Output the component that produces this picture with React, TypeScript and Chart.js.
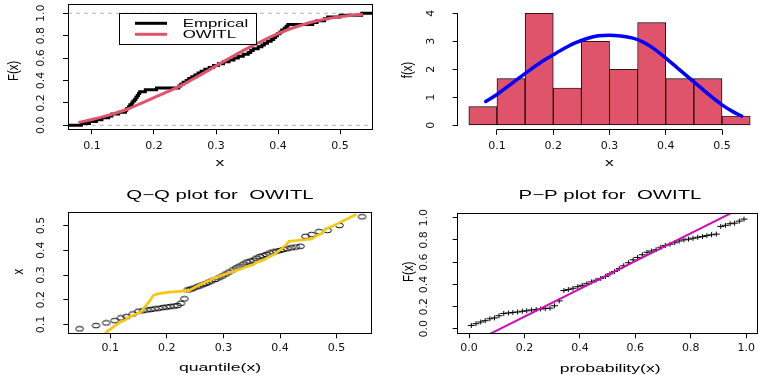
import React, { useEffect, useRef } from "react";
import { Chart, registerables } from "chart.js";

Chart.register(...registerables);

// ---------------- values ----------------
// sorted sample (n = 60)
const sampleX = [
  0.083, 0.096, 0.107, 0.116, 0.127, 0.132, 0.143, 0.154, 0.156, 0.159,
  0.161, 0.164, 0.166, 0.169, 0.171, 0.173, 0.175, 0.177, 0.186, 0.204,
  0.240, 0.243, 0.247, 0.252, 0.256, 0.261, 0.266, 0.271, 0.276, 0.282,
  0.289, 0.296, 0.304, 0.312, 0.321, 0.329, 0.336, 0.344, 0.352, 0.356,
  0.360, 0.368, 0.374, 0.378, 0.383, 0.389, 0.393, 0.396, 0.399, 0.403,
  0.406, 0.410, 0.413, 0.416, 0.456, 0.463, 0.475, 0.480, 0.500, 0.535,
];
// theoretical OWITL quantiles (x axis of the Q-Q plot)
const theoQuantiles = [
  0.046, 0.075, 0.093, 0.108, 0.119, 0.129, 0.140, 0.150, 0.158, 0.165,
  0.172, 0.179, 0.186, 0.193, 0.200, 0.206, 0.213, 0.219, 0.225, 0.231,
  0.237, 0.242, 0.247, 0.253, 0.258, 0.264, 0.269, 0.274, 0.279, 0.286,
  0.292, 0.298, 0.304, 0.310, 0.317, 0.323, 0.329, 0.335, 0.341, 0.347,
  0.353, 0.358, 0.364, 0.370, 0.376, 0.382, 0.388, 0.394, 0.400, 0.406,
  0.413, 0.420, 0.428, 0.436, 0.445, 0.456, 0.469, 0.484, 0.505, 0.545,
];
// plotting probabilities (x axis of the P-P plot)
const plotProbs = [
  0.008, 0.025, 0.042, 0.058, 0.075, 0.092, 0.108, 0.125, 0.142, 0.158,
  0.175, 0.192, 0.208, 0.225, 0.242, 0.258, 0.275, 0.292, 0.308, 0.325,
  0.342, 0.358, 0.375, 0.392, 0.408, 0.425, 0.442, 0.458, 0.475, 0.492,
  0.508, 0.525, 0.542, 0.558, 0.575, 0.592, 0.608, 0.625, 0.642, 0.658,
  0.675, 0.692, 0.708, 0.725, 0.742, 0.758, 0.775, 0.792, 0.808, 0.825,
  0.842, 0.858, 0.875, 0.892, 0.908, 0.925, 0.942, 0.958, 0.975, 0.992,
];
// fitted CDF at the sample (y axis of the P-P plot)
const ppFitted = [
  0.031, 0.047, 0.062, 0.074, 0.091, 0.099, 0.118, 0.139, 0.143, 0.148,
  0.152, 0.159, 0.163, 0.170, 0.174, 0.179, 0.183, 0.187, 0.208, 0.252,
  0.345, 0.354, 0.366, 0.380, 0.392, 0.407, 0.423, 0.438, 0.454, 0.472,
  0.495, 0.517, 0.543, 0.568, 0.596, 0.621, 0.643, 0.667, 0.690, 0.701,
  0.713, 0.735, 0.751, 0.762, 0.776, 0.791, 0.801, 0.808, 0.816, 0.825,
  0.831, 0.840, 0.847, 0.853, 0.922, 0.932, 0.946, 0.952, 0.970, 0.988,
];
// histogram
const histEdges = [0.05, 0.1, 0.15, 0.2, 0.25, 0.3, 0.35, 0.4, 0.45, 0.5, 0.55];
const histDensity = [0.667, 1.667, 4.0, 1.333, 3.0, 2.0, 3.667, 1.667, 1.667, 0.333];
// fitted OWITL curves
const curveX = [
  0.08, 0.10, 0.12, 0.14, 0.16, 0.18, 0.20, 0.22, 0.24, 0.26, 0.28, 0.30,
  0.32, 0.34, 0.36, 0.38, 0.40, 0.42, 0.44, 0.46, 0.48, 0.50, 0.52, 0.535,
];
const densityY = [
  0.85, 1.10, 1.40, 1.70, 2.00, 2.28, 2.52, 2.75, 2.95, 3.10, 3.20, 3.22,
  3.19, 3.12, 2.97, 2.72, 2.40, 2.06, 1.72, 1.38, 1.04, 0.73, 0.48, 0.33,
];
const cdfY = [
  0.027, 0.052, 0.080, 0.112, 0.150, 0.198, 0.248, 0.296, 0.345, 0.404, 0.466, 0.530,
  0.593, 0.655, 0.713, 0.768, 0.818, 0.862, 0.898, 0.928, 0.952, 0.970, 0.982, 0.988,
];
// P-P reference line
const ppLineIntercept = -0.14;
const ppLineSlope = 1.25;
// ticks and labels
const xTicks = [0.1, 0.2, 0.3, 0.4, 0.5];
const probTicks = [0, 0.2, 0.4, 0.6, 0.8, 1.0];
const densTicks = [0, 1, 2, 3, 4];
const legendLabels = ["Emprical", "OWITL"];
const qqTitle = "Q\u2212Q plot for  OWITL";
const ppTitle = "P\u2212P plot for  OWITL";

// ---------------- styling ----------------
const RED = "#DF536B";
const BLUE = "#0000FF";
const YELLOW = "#F5C710";
const MAGENTA = "#CD0BBC";
const TICK_FONT = { family: "'DejaVu Sans', sans-serif", size: 11 };
const TXT_FAMILY = "'Liberation Sans', Arial, sans-serif";

type Rect = { x: number; y: number; w: number; h: number };
type Area = { l: number; r: number; t: number; b: number };
type Txt = {
  text: string; x: number; y: number; size: number;
  sx?: number; sy?: number; rot?: boolean; align?: CanvasTextAlign;
};

const fmt1 = (v: number) => v.toFixed(1);
const fmt0 = (v: number) => String(Math.round(v));

function measureTick(s: string) {
  const c = document.createElement("canvas").getContext("2d")!;
  c.font = `${TICK_FONT.size}px ${TICK_FONT.family}`;
  return c.measureText(s).width;
}

const gridOpts = {
  display: true, offset: false, drawOnChartArea: false, drawTicks: true,
  tickLength: 5, color: "#000", lineWidth: 1,
};

function xAxis(cv: Rect, a: Area, min: number, max: number, ticks: number[], fmt: (v: number) => string, labelY: number) {
  const height = cv.y + cv.h - a.b;
  const pad = labelY - a.b - 5 - (TICK_FONT.size * 1.2) / 2;
  return {
    type: "linear", position: "bottom", min, max, offset: false,
    afterBuildTicks: (s: any) => { s.ticks = ticks.map((v) => ({ value: v })); },
    afterFit: (s: any) => { s.height = height; s.paddingLeft = 0; s.paddingRight = 0; },
    ticks: {
      autoSkip: false, minRotation: 0, maxRotation: 0, padding: pad,
      font: TICK_FONT, color: "#111", callback: (v: any) => fmt(Number(v)),
    },
    grid: gridOpts,
    border: { display: false },
  };
}

function yAxis(cv: Rect, a: Area, min: number, max: number, ticks: number[], fmt: (v: number) => string, labelX: number) {
  const width = a.l - cv.x;
  const widest = Math.max(...ticks.map((v) => measureTick(fmt(v))));
  const pad = a.l - labelX - 5 - widest / 2;
  return {
    type: "linear", position: "left", min, max,
    afterBuildTicks: (s: any) => { s.ticks = ticks.map((v) => ({ value: v })); },
    afterFit: (s: any) => { s.width = width; s.paddingTop = 0; s.paddingBottom = 0; },
    ticks: {
      autoSkip: false, minRotation: 90, maxRotation: 90, crossAlign: "center", padding: pad,
      font: TICK_FONT, color: "#111", callback: (v: any) => fmt(Number(v)),
    },
    grid: gridOpts,
    border: { display: false },
  };
}

function baseOptions(cv: Rect, a: Area, x: any, y: any) {
  return {
    responsive: false, animation: false, devicePixelRatio: 1, events: [],
    layout: { padding: { left: 0, top: a.t - cv.y, right: Math.max(0, cv.x + cv.w - a.r), bottom: 0 } },
    plugins: { legend: { display: false }, tooltip: { enabled: false }, title: { display: false } },
    scales: { x, y },
  };
}

function drawTxt(ctx: CanvasRenderingContext2D, cv: Rect, t: Txt) {
  ctx.save();
  ctx.translate(t.x - cv.x, t.y - cv.y);
  if (t.rot) ctx.rotate(-Math.PI / 2);
  ctx.scale(t.sx ?? 1, t.sy ?? 1);
  ctx.font = `${t.size}px ${TXT_FAMILY}`;
  ctx.fillStyle = "#000";
  ctx.textAlign = t.align ?? "center";
  ctx.textBaseline = "middle";
  ctx.fillText(t.text, 0, 0);
  ctx.restore();
}

function textPlugin(cv: Rect, items: Txt[]) {
  return {
    id: "rtext",
    afterDraw(chart: any) {
      for (const t of items) drawTxt(chart.ctx, cv, t);
    },
  };
}

const al = (p: number) => Math.round(p - 0.5) + 0.5;

const boxPlugin = {
  id: "rbox",
  afterDatasetsDraw(chart: any) {
    const { ctx, chartArea: a } = chart;
    ctx.save();
    ctx.strokeStyle = "#000";
    ctx.lineWidth = 1;
    ctx.strokeRect(al(a.left), al(a.top), al(a.right) - al(a.left), al(a.bottom) - al(a.top));
    ctx.restore();
  },
};

// R-style axis lines spanning first..last tick (histogram panel)
function rAxesPlugin(xt: number[], yt: number[]) {
  return {
    id: "raxes",
    afterDraw(chart: any) {
      const { ctx, chartArea: a, scales } = chart;
      ctx.save();
      ctx.strokeStyle = "#000";
      ctx.lineWidth = 1;
      ctx.beginPath();
      const yb = al(a.bottom);
      ctx.moveTo(al(scales.x.getPixelForValue(xt[0])), yb);
      ctx.lineTo(al(scales.x.getPixelForValue(xt[xt.length - 1])), yb);
      const xl = al(a.left);
      ctx.moveTo(xl, al(scales.y.getPixelForValue(yt[0])));
      ctx.lineTo(xl, al(scales.y.getPixelForValue(yt[yt.length - 1])));
      ctx.stroke();
      ctx.restore();
    },
  };
}

function legendPlugin(cv: Rect) {
  return {
    id: "rlegend",
    afterDatasetsDraw(chart: any) {
      const ctx: CanvasRenderingContext2D = chart.ctx;
      const bx = { l: 119, r: 255.7, t: 13.3, b: 44.3 };
      ctx.save();
      ctx.fillStyle = "#fff";
      ctx.strokeStyle = "#000";
      ctx.lineWidth = 1;
      ctx.fillRect(bx.l - cv.x, bx.t - cv.y, bx.r - bx.l, bx.b - bx.t);
      ctx.strokeRect(al(bx.l - cv.x), al(bx.t - cv.y), Math.round(bx.r - bx.l), Math.round(bx.b - bx.t));
      const rows = [23.3, 34.3];
      const cols = ["#000", RED];
      ctx.lineWidth = 3;
      ctx.lineCap = "butt";
      rows.forEach((yy, i) => {
        ctx.strokeStyle = cols[i];
        ctx.beginPath();
        ctx.moveTo(135 - cv.x, yy - cv.y);
        ctx.lineTo(167 - cv.x, yy - cv.y);
        ctx.stroke();
      });
      ctx.restore();
      legendLabels.forEach((lab, i) =>
        drawTxt(ctx, cv, { text: lab, x: 182.7, y: rows[i] + 0.3, size: 11, sx: 1.53, align: "left" })
      );
    },
  };
}

// ---------------- panels ----------------
const CV1: Rect = { x: 0, y: 0, w: 381, h: 180 };
const A1: Area = { l: 68, r: 372, t: 4.3, b: 129.3 };
const CV2: Rect = { x: 381, y: 0, w: 381, h: 180 };
const A2: Area = { l: 457.6, r: 761.4, t: 8.8, b: 129.8 };
const CV3: Rect = { x: 0, y: 180, w: 381, h: 195 };
const A3: Area = { l: 68.3, r: 371.7, t: 212.3, b: 333.3 };
const CV4: Rect = { x: 381, y: 180, w: 381, h: 195 };
const A4: Area = { l: 457.7, r: 762, t: 213.3, b: 333.3 };

const ROT_SIZE = 11.5;
const ROT_SY = 1.25;

function config1() {
  const xmin = 0.0613, xmax = 0.5516;
  const n = sampleX.length;
  const ecdf = [{ x: xmin, y: 0 }, ...sampleX.map((x, i) => ({ x, y: (i + 1) / n })), { x: xmax, y: 1 }];
  const refLine = (v: number) => ({
    data: [{ x: xmin, y: v }, { x: xmax, y: v }], showLine: true, borderColor: "#B3B3B3",
    borderDash: [4, 4], borderWidth: 1, pointRadius: 0, clip: 0,
  });
  return {
    type: "scatter",
    data: {
      datasets: [
        {
          label: legendLabels[1], data: curveX.map((x, i) => ({ x, y: cdfY[i] })), showLine: true,
          borderColor: RED, borderWidth: 3, pointRadius: 0, cubicInterpolationMode: "monotone",
          borderCapStyle: "round", clip: 0,
        },
        {
          label: legendLabels[0], data: ecdf, showLine: true, stepped: "before",
          borderColor: "#000", borderWidth: 3, pointRadius: 0, clip: 0,
        },
        refLine(0),
        refLine(1),
      ],
    },
    options: baseOptions(CV1, A1,
      xAxis(CV1, A1, xmin, xmax, xTicks, fmt1, 145.7),
      yAxis(CV1, A1, -0.0357, 1.08, probTicks, fmt1, 41.2)),
    plugins: [
      boxPlugin,
      legendPlugin(CV1),
      textPlugin(CV1, [
        { text: "x", x: 220, y: 163.3, size: 11, sx: 1.6 },
        { text: "F(x)", x: 14.2, y: 70.8, size: ROT_SIZE, rot: true, sy: ROT_SY },
      ]),
    ],
  };
}

function config2() {
  return {
    type: "bar",
    data: {
      datasets: [
        {
          type: "line", data: curveX.map((x, i) => ({ x, y: densityY[i] })), borderColor: BLUE,
          borderWidth: 3.5, pointRadius: 0, cubicInterpolationMode: "monotone", fill: false,
          borderCapStyle: "round", clip: 0,
        },
        {
          type: "bar",
          data: histDensity.map((d, i) => ({ x: (histEdges[i] + histEdges[i + 1]) / 2, y: d })),
          backgroundColor: RED, borderColor: "#000", borderWidth: 0.9, borderSkipped: false,
          barPercentage: 1, categoryPercentage: 1,
        },
      ],
    },
    options: baseOptions(CV2, A2,
      xAxis(CV2, A2, 0.03, 0.57, xTicks, fmt1, 145.7),
      yAxis(CV2, A2, -0.16, 4.16, densTicks, fmt0, 431)),
    plugins: [
      rAxesPlugin(xTicks, densTicks),
      textPlugin(CV2, [
        { text: "x", x: 609.3, y: 163.3, size: 11, sx: 1.6 },
        { text: "f(x)", x: 407.7, y: 70, size: ROT_SIZE, rot: true, sy: ROT_SY },
      ]),
    ],
  };
}

function makeEllipse() {
  const c = document.createElement("canvas");
  c.width = 11; c.height = 7;
  const g = c.getContext("2d")!;
  g.strokeStyle = "#000"; g.lineWidth = 1;
  g.beginPath();
  g.ellipse(5.5, 3.5, 3.9, 2.3, 0, 0, Math.PI * 2);
  g.stroke();
  return c;
}

function makePlus() {
  const c = document.createElement("canvas");
  c.width = 9; c.height = 7;
  const g = c.getContext("2d")!;
  g.fillStyle = "#000";
  g.fillRect(1, 3, 7, 1);
  g.fillRect(4, 1, 1, 5);
  return c;
}

function config3() {
  return {
    type: "scatter",
    data: {
      datasets: [
        {
          data: sampleX.map((x, i) => ({ x, y: theoQuantiles[i] })), showLine: true,
          borderColor: YELLOW, borderWidth: 2.6, pointRadius: 0, clip: 0,
        },
        {
          data: theoQuantiles.map((q, i) => ({ x: q, y: sampleX[i] })), showLine: false,
          pointStyle: makeEllipse(), pointRadius: 3, clip: 0,
        },
      ],
    },
    options: baseOptions(CV3, A3,
      xAxis(CV3, A3, 0.026, 0.562, xTicks, fmt1, 348.3),
      yAxis(CV3, A3, 0.065, 0.553, xTicks, fmt1, 41)),
    plugins: [
      boxPlugin,
      textPlugin(CV3, [
        { text: qqTitle, x: 220, y: 195.7, size: 12.5, sx: 1.63 },
        { text: "quantile(x)", x: 220, y: 368.3, size: 11, sx: 1.6 },
        { text: "x", x: 19, y: 271.7, size: ROT_SIZE, rot: true, sy: ROT_SY },
      ]),
    ],
  };
}

function config4() {
  const xmin = -0.041, xmax = 1.039;
  return {
    type: "scatter",
    data: {
      datasets: [
        {
          data: [xmin, xmax].map((x) => ({ x, y: ppLineIntercept + ppLineSlope * x })), showLine: true,
          borderColor: MAGENTA, borderWidth: 2, pointRadius: 0, clip: 0,
        },
        {
          data: plotProbs.map((p, i) => ({ x: p, y: ppFitted[i] })), showLine: false,
          pointStyle: makePlus(), pointRadius: 3, clip: 0,
        },
      ],
    },
    options: baseOptions(CV4, A4,
      xAxis(CV4, A4, xmin, xmax, probTicks, fmt1, 347.7),
      yAxis(CV4, A4, -0.04, 1.04, probTicks, fmt1, 424.3)),
    plugins: [
      boxPlugin,
      textPlugin(CV4, [
        { text: ppTitle, x: 610, y: 195.7, size: 12.5, sx: 1.63 },
        { text: "probability(x)", x: 610.2, y: 369, size: 11, sx: 1.6 },
        { text: "F(x)", x: 409.3, y: 271.7, size: ROT_SIZE, rot: true, sy: ROT_SY },
      ]),
    ],
  };
}

const PANELS: { cv: Rect; make: () => any }[] = [
  { cv: CV1, make: config1 },
  { cv: CV2, make: config2 },
  { cv: CV3, make: config3 },
  { cv: CV4, make: config4 },
];

export default function App() {
  const refs = useRef<(HTMLCanvasElement | null)[]>([]);

  useEffect(() => {
    const charts: Chart[] = [];
    PANELS.forEach((p, i) => {
      const el = refs.current[i];
      if (el) charts.push(new Chart(el, p.make() as any));
    });
    return () => charts.forEach((c) => c.destroy());
  }, []);

  return (
    <div style={{ position: "fixed", left: 0, top: 0, width: 762, height: 375, background: "#fff", overflow: "hidden" }}>
      {PANELS.map((p, i) => (
        <canvas
          key={i}
          ref={(el) => { refs.current[i] = el; }}
          width={p.cv.w}
          height={p.cv.h}
          style={{ position: "absolute", left: p.cv.x, top: p.cv.y, width: p.cv.w, height: p.cv.h }}
        />
      ))}
    </div>
  );
}
